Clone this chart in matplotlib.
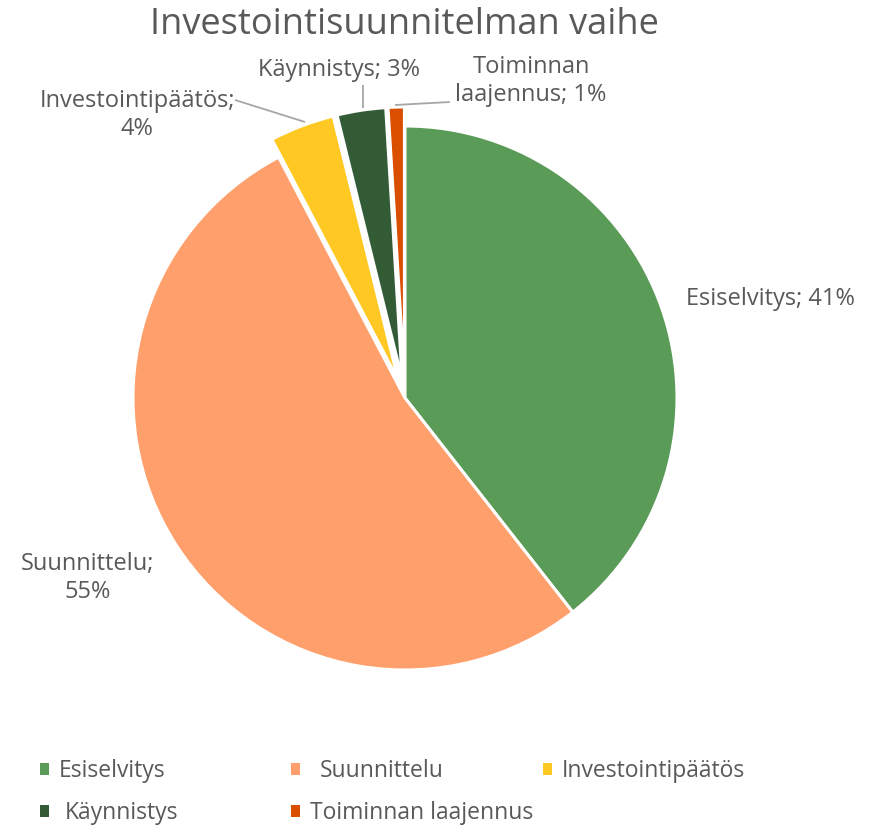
import matplotlib
matplotlib.use("Agg")
import matplotlib.pyplot as plt

categories = ["Esiselvitys", "Suunnittelu", "Investointipäätös", "Käynnistys", "Toiminnan laajennus"]
values = [41, 55, 4, 3, 1]
label_texts = ["Esiselvitys; 41%", "Suunnittelu;\n55%", "Investointipäätös;\n4%", "Käynnistys; 3%", "Toiminnan\nlaajennus; 1%"]
colors = ["#5A9B57", "#FF9F6B", "#FFC822", "#335C36", "#DA4E00"]
explode = [0, 0, 0.07, 0.07, 0.07]

plt.rcParams['font.family'] = ['Open Sans', 'DejaVu Sans']
TXT = "#595959"

W, H = 891, 826
fig = plt.figure(figsize=(W/100, H/100), dpi=100)
cx, cy, R = 405, 398, 272
half = 1.3 * R
ax = fig.add_axes([(cx-half)/W, (H-cy-half)/H, 2*half/W, 2*half/H])
wedges, _ = ax.pie(values, colors=colors, startangle=90, counterclock=False,
                   explode=explode, radius=1.0,
                   wedgeprops=dict(edgecolor="white", linewidth=2.2))
ax.set_xlim(-1.3, 1.3)
ax.set_ylim(-1.3, 1.3)
ax.axis('off')

def d(px, py):
    return ((px-cx)/R, (cy-py)/R)

lab_pos = [(d(686, 299), 'left'), (d(88, 578), 'center'), (d(137, 115), 'center'),
           (d(339, 70), 'center'), (d(531, 81), 'center')]
for t, (p, ha) in zip(label_texts, lab_pos):
    ax.text(p[0], p[1], t, ha=ha, va='center', fontsize=17, color=TXT, linespacing=1.2)

leaders = [((235, 100), (305, 122)), ((363, 85), (363, 108)), ((450, 102), (395, 105))]
for a, b in leaders:
    pa, pb = d(*a), d(*b)
    ax.plot([pa[0], pb[0]], [pa[1], pb[1]], color="#A6A6A6", lw=1.3, solid_capstyle='butt')

fig.text(404/W, 1-25/H, "Investointisuunnitelman vaihe", ha='center', va='center',
         fontsize=26, color=TXT)

leg_pos = [(40, 771, 0.42), (291, 771, 0.85), (543, 771, 0.42), (40, 813, 0.7), (291, 813, 0.42)]
for w, name, (px, py, pad) in zip(wedges, categories, leg_pos):
    lg = fig.legend([w], [name], loc='center left', bbox_to_anchor=(px/W, 1-py/H),
                    frameon=False, handlelength=0.4, handleheight=0.4, handletextpad=pad,
                    borderpad=0, borderaxespad=0, fontsize=16.5, labelcolor=TXT)
    for h in lg.legend_handles:
        h.set_edgecolor('none')

fig.savefig("out.png", dpi=100)
